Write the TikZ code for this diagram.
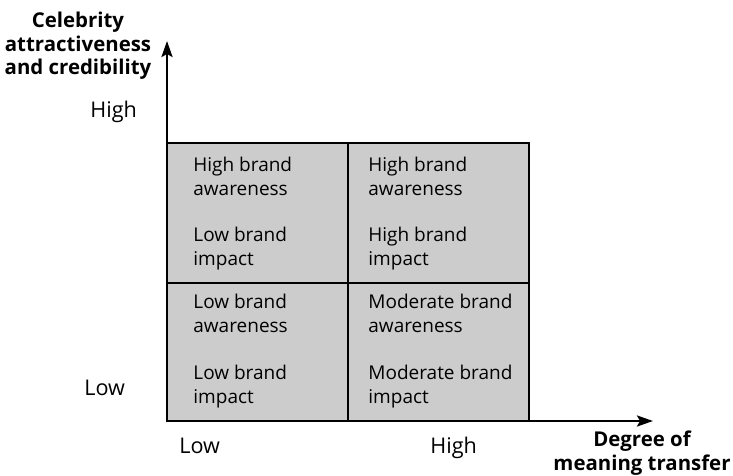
\documentclass[tikz,border=0pt]{standalone}
\usepackage{fontspec}
\setmainfont{Open Sans}
\usetikzlibrary{arrows.meta}

\tikzset{
  cell/.style={anchor=base west,inner sep=0pt,align=left,font=\fontsize{9.5}{11.8}\selectfont},
  lvl/.style={anchor=base west,inner sep=0pt,font=\fontsize{10.8}{12}\selectfont},
  axtitle/.style={anchor=base,inner sep=0pt,align=center,font=\fontsize{10.2}{11.8}\selectfont\bfseries},
  axis/.style={line width=1.25pt,-{Stealth[length=8pt,width=5.5pt,inset=1.5pt]}}
}

\begin{document}
\begin{tikzpicture}[x=0.5pt,y=-0.5pt]
  \useasboundingbox (0,0) rectangle (733,476);

  \coordinate (O) at (167, 421);
  \coordinate (Ytip) at (167, 41);
  \coordinate (Xtip) at (653, 421);
  \coordinate (TR) at (529, 143);
  \coordinate (Mtop) at (348, 143);
  \coordinate (Mbot) at (348, 421);
  \coordinate (Lmid) at (167, 283);
  \coordinate (Rmid) at (529, 283);

  % grid of four cells
  \fill[gray!40] (O) rectangle (TR);
  \draw[line width=0.6pt] (O) rectangle (TR);
  \draw[line width=0.6pt] (Mtop) -- (Mbot);
  \draw[line width=0.6pt] (Lmid) -- (Rmid);

  % axes
  \draw[axis] (O) -- (Ytip);
  \draw[axis] (O) -- (Xtip);

  \node[cell] (A1) at (193, 195) {High brand\\awareness};
  \node[cell] (A2) at (193, 265) {Low brand\\impact};
  \node[cell] (B1) at (368, 195) {High brand\\awareness};
  \node[cell] (B2) at (368, 265) {High brand\\impact};
  \node[cell] (C1) at (193, 332) {Low brand\\awareness};
  \node[cell] (C2) at (193, 403) {Low brand\\impact};
  \node[cell] (D1) at (368, 332) {Moderate brand\\awareness};
  \node[cell] (D2) at (368, 403) {Moderate brand\\impact};

  \node[lvl] (YH) at (90, 118) {High};
  \node[lvl] (YL) at (84, 395) {Low};
  \node[lvl] (XL) at (179, 453) {Low};
  \node[lvl] (XH) at (430, 453) {High};

  \node[axtitle] (YT) at (78, 75) {Celebrity\\attractiveness\\and credibility};
  \node[axtitle] (XT) at (642, 470) {Degree of\\meaning transfer};
\end{tikzpicture}
\end{document}
